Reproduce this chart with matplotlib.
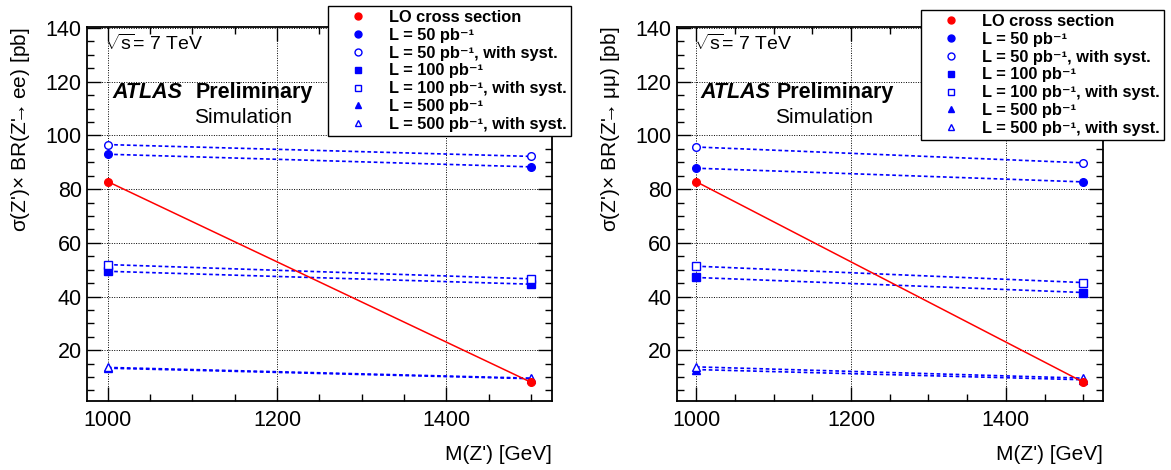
import matplotlib
matplotlib.use("Agg")
import matplotlib.pyplot as plt
from matplotlib.lines import Line2D
from matplotlib.ticker import MultipleLocator

plt.rcParams['font.family'] = ['Liberation Sans', 'DejaVu Sans']
plt.rcParams['mathtext.fontset'] = 'custom'
plt.rcParams['mathtext.rm'] = 'Liberation Sans'
plt.rcParams['mathtext.it'] = 'Liberation Sans:italic'

# Z' mass points [GeV]
mass = [1000, 1500]

# cross section x BR [pb], Z' -> ee
ee_lo = [82.8, 8.1]
ee_50 = [93.0, 88.3]
ee_50_syst = [96.6, 92.2]
ee_100 = [49.4, 44.6]
ee_100_syst = [51.9, 46.6]
ee_500 = [13.3, 9.4]
ee_500_syst = [13.6, 9.6]

# cross section x BR [pb], Z' -> mumu
mm_lo = [82.8, 8.1]
mm_50 = [87.8, 82.7]
mm_50_syst = [95.7, 89.8]
mm_100 = [47.1, 41.5]
mm_100_syst = [51.3, 45.2]
mm_500 = [12.8, 9.0]
mm_500_syst = [13.8, 9.6]

labels = ["LO cross section",
          "L = 50 pb⁻¹",
          "L = 50 pb⁻¹, with syst.",
          "L = 100 pb⁻¹",
          "L = 100 pb⁻¹, with syst.",
          "L = 500 pb⁻¹",
          "L = 500 pb⁻¹, with syst."]

W, H = 1171, 470
fig = plt.figure(figsize=(W / 100, H / 100), dpi=100)

RED = '#ff0000'
BLUE = '#0000ff'


def draw_panel(ax, series, ylabel):
    lo, s50, s50s, s100, s100s, s500, s500s = series
    ax.plot(mass, lo, color=RED, lw=1.1, marker='o', ms=5.5, mfc=RED, mec=RED, zorder=5)
    blue = [(s50, 'o', True), (s50s, 'o', False), (s100, 's', True),
            (s100s, 's', False), (s500, '^', True), (s500s, '^', False)]
    for vals, m, filled in blue:
        ms = {'o': 5.5, 's': 5.2, '^': 6.2}[m]
        ax.plot(mass, vals, color=BLUE, lw=1.2, ls=(0, (2.2, 1.6)), marker=m, ms=ms,
                mfc=BLUE if filled else 'white', mec=BLUE, mew=1.0, zorder=4)
    ax.set_xlim(975, 1525)
    ax.set_ylim(1.2, 140.4)
    ax.xaxis.set_major_locator(MultipleLocator(200))
    ax.xaxis.set_minor_locator(MultipleLocator(50))
    ax.yaxis.set_major_locator(MultipleLocator(20))
    ax.yaxis.set_minor_locator(MultipleLocator(5))
    ax.grid(True, which='major', color='black', ls=(0, (1, 1.5)), lw=0.7)
    ax.tick_params(which='both', direction='in', top=True, right=True, labelsize=15.5)
    ax.tick_params(which='major', length=10, width=1)
    ax.tick_params(which='minor', length=5, width=1)
    ax.tick_params(axis='x', pad=7)
    for sp in ax.spines.values():
        sp.set_linewidth(1.3)
    ax.set_ylabel(ylabel, fontsize=15, loc='top', labelpad=10)
    ax.set_xlabel("M(Z') [GeV]", fontsize=15, loc='right', labelpad=10)
    ax.text(0.04, 0.938, r"$\sqrt{\mathrm{s}}$= 7 TeV", transform=ax.transAxes, fontsize=14)
    ax.text(0.055, 0.81, "ATLAS", transform=ax.transAxes, fontsize=15.5,
            fontweight='bold', fontstyle='italic')
    ax.text(0.235, 0.81, "Preliminary", transform=ax.transAxes, fontsize=15.5, fontweight='bold')
    ax.text(0.23, 0.743, "Simulation", transform=ax.transAxes, fontsize=15)


def add_legend(x_px, y_px):
    handles = [Line2D([], [], ls='none', marker='o', ms=5, color=RED)]
    specs = [('o', True), ('o', False), ('s', True), ('s', False), ('^', True), ('^', False)]
    for m, filled in specs:
        handles.append(Line2D([], [], ls='none', marker=m, ms=5, mec=BLUE, mew=1.0,
                              mfc=BLUE if filled else 'white'))
    leg = fig.legend(handles, labels, loc='upper left',
                     bbox_to_anchor=(x_px / W, 1 - y_px / H),
                     prop={'weight': 'bold', 'size': 11.8}, frameon=True, fancybox=False,
                     edgecolor='black', framealpha=1, borderpad=0.25, labelspacing=0.17,
                     handlelength=3.2, handletextpad=0.3, borderaxespad=0)
    leg.get_frame().set_linewidth(1.0)
    leg.set_zorder(10)


ax1 = fig.add_axes([86.7 / W, 1 - 400.7 / H, (552 - 86.7) / W, (400.7 - 27) / H])
draw_panel(ax1, [ee_lo, ee_50, ee_50_syst, ee_100, ee_100_syst, ee_500, ee_500_syst],
           r"σ(Z')× BR(Z'$\!\!\!\rightarrow\!\!$ ee) [pb]")

ax2 = fig.add_axes([676.7 / W, 1 - 400.7 / H, (1102.7 - 676.7) / W, (400.7 - 27) / H])
draw_panel(ax2, [mm_lo, mm_50, mm_50_syst, mm_100, mm_100_syst, mm_500, mm_500_syst],
           r"σ(Z')× BR(Z'$\!\!\!\rightarrow\!\!$ μμ) [pb]")

add_legend(328, 6)
add_legend(921, 10)

fig.savefig("out.png", dpi=100)
